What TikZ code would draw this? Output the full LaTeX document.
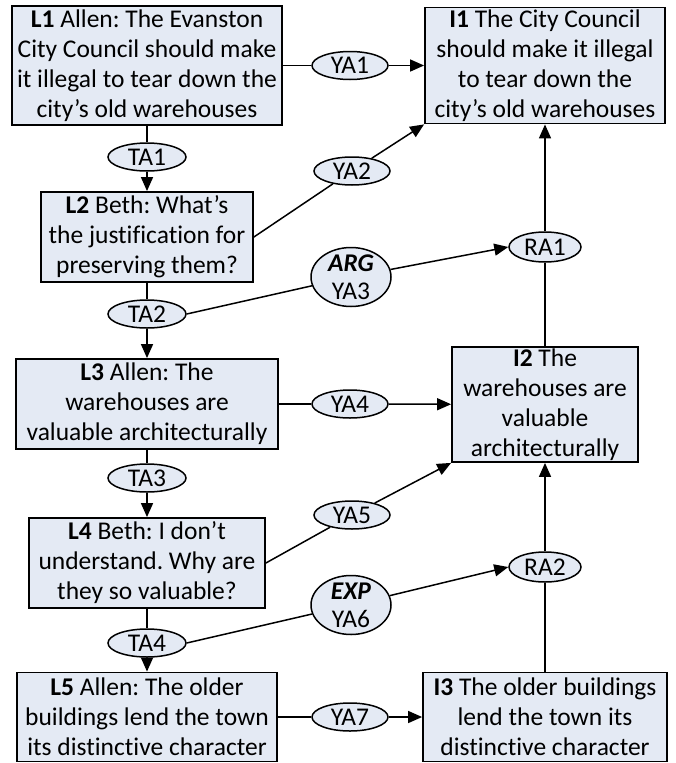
\documentclass[tikz,border=0pt]{standalone}
\usepackage{fontspec}
\setmainfont[Ligatures={NoCommon}]{Carlito}
\usetikzlibrary{shapes.geometric,arrows.meta}
\definecolor{boxfill}{HTML}{E4EAF4}
\frenchspacing
\begin{document}
\frenchspacing
\begin{tikzpicture}[x=1pt,y=-1pt,
  every node/.style={font=\fontsize{25.5}{30}\selectfont},
  stmt/.style={draw, line width=1.8pt, fill=boxfill, align=center, inner sep=0pt},
  ell/.style={draw, ellipse, line width=1.5pt, fill=boxfill, inner sep=0pt, minimum width=78pt, minimum height=28pt},
  rell/.style={draw, ellipse, line width=1.5pt, fill=boxfill, inner sep=0pt, minimum width=72pt, minimum height=30pt},
  bigell/.style={draw, ellipse, line width=1.5pt, fill=boxfill, inner sep=0pt, minimum width=80pt, minimum height=59pt},
  etext/.style={align=center, inner sep=0pt, font=\fontsize{25.5}{28}\selectfont},
  conn/.style={line width=1.5pt},
  arr/.style={line width=1.5pt, -{Triangle[length=14pt,width=12pt]}},
]
\useasboundingbox (0,0) rectangle (675,763);

% statement boxes
\node[stmt, minimum width=270pt, minimum height=119pt] (L1) at (147,65.5) {\textbf{L1} Allen: The Evanston\\City Council should make\\it illegal to tear down the\\city’s old warehouses};
\node[stmt, minimum width=240pt, minimum height=116pt] (I1) at (545,65.5) {\textbf{I1} The City Council\\should make it illegal\\to tear down the\\city’s old warehouses};
\node[stmt, minimum width=212pt, minimum height=90pt] (L2) at (147,237) {\textbf{L2} Beth: What’s\\the justification for\\preserving them?};
\node[stmt, minimum width=262pt, minimum height=90pt] (L3) at (147,404) {\textbf{L3} Allen: The\\warehouses are\\valuable architecturally};
\node[stmt, minimum width=186pt, minimum height=115pt] (I2) at (545,404.5) {\textbf{I2} The\\warehouses are\\valuable\\architecturally};
\node[stmt, minimum width=236pt, minimum height=90pt] (L4) at (147,563) {\textbf{L4} Beth: I don’t\\understand. Why are\\they so valuable?};
\node[stmt, minimum width=260pt, minimum height=89pt] (L5) at (147,717) {\textbf{L5} Allen: The older\\buildings lend the town\\its distinctive character};
\node[stmt, minimum width=244pt, minimum height=89pt] (I3) at (545,717) {\textbf{I3} The older buildings\\lend the town its\\distinctive character};

% small ellipses
\node[ell] (TA1) at (147,157) {TA1};
\node[ell] (TA2) at (147,314) {TA2};
\node[ell] (TA3) at (147,478) {TA3};
\node[ell] (TA4) at (147,643) {TA4};
\node[ell, minimum width=76pt] (YA1) at (350,65.5) {YA1};
\node[ell, minimum width=76pt] (YA2) at (352,171) {YA2};
\node[ell, minimum width=76pt] (YA4) at (350,404) {YA4};
\node[ell, minimum width=76pt] (YA5) at (352,515) {YA5};
\node[ell, minimum width=76pt] (YA7) at (350,717) {YA7};
\node[rell] (RA1) at (545,247) {RA1};
\node[rell] (RA2) at (545,567) {RA2};

% big ellipses
\node[bigell] (ARG) at (351,277) {};
\node[etext] (ARGt) at (351,277) {\textbf{\textit{ARG}}\\YA3};
\node[bigell] (EXP) at (351,605) {};
\node[etext] (EXPt) at (351,605) {\textbf{\textit{EXP}}\\YA6};

% connectors
\draw[conn] (L1) -- (YA1);
\draw[arr] (YA1) -- (I1);
\draw[conn] (L1) -- (TA1);
\draw[arr] (TA1) -- (L2);
\draw[conn] (L2.east) -- (YA2);
\draw[arr] (YA2) -- (I1.south west);
\draw[conn] (L2) -- (TA2);
\draw[arr] (TA2) -- (L3);
\draw[conn] (TA2.east) -- (ARG);
\draw[arr] (ARG) -- (RA1.west);
\draw[conn] (I2) -- (RA1);
\draw[arr] (RA1) -- (I1);
\draw[conn] (L3) -- (YA4);
\draw[arr] (YA4) -- (I2);
\draw[conn] (L3) -- (TA3);
\draw[arr] (TA3) -- (L4);
\draw[conn] (L4.east) -- (YA5);
\draw[arr] (YA5) -- (I2.south west);
\draw[conn] (L4) -- (TA4);
\draw[arr] (TA4) -- (L5);
\draw[conn] (TA4.east) -- (EXP);
\draw[arr] (EXP) -- (RA2.west);
\draw[conn] (I3) -- (RA2);
\draw[arr] (RA2) -- (I2);
\draw[conn] (L5) -- (YA7);
\draw[arr] (YA7) -- (I3);
\end{tikzpicture}
\end{document}
